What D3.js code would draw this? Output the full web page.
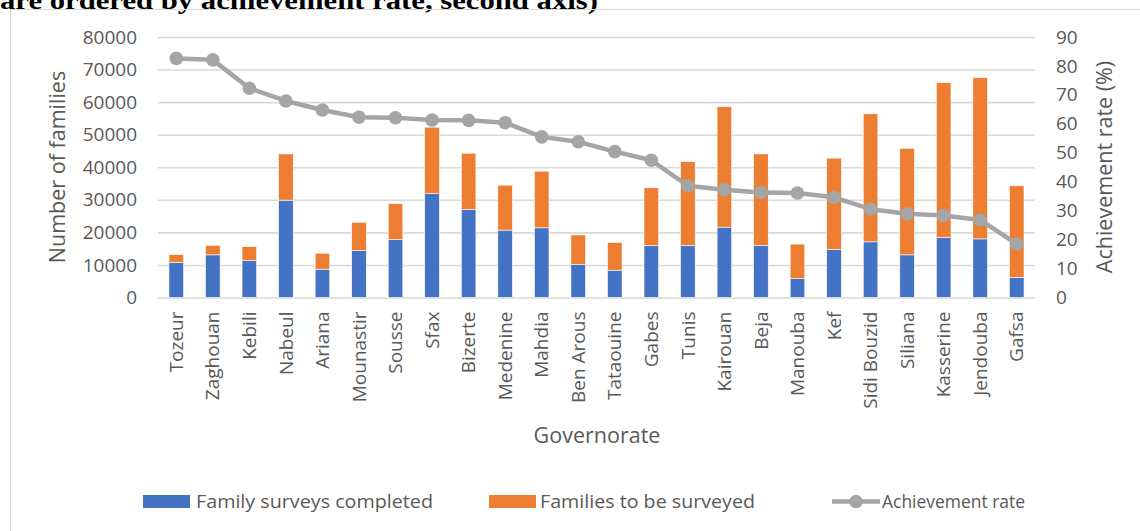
<!DOCTYPE html>
<html>
<head>
<meta charset="utf-8">
<script src="https://cdn.jsdelivr.net/npm/d3@7"></script>
<style>
  html, body { margin: 0; padding: 0; background: #fff; }
  svg { display: block; }
</style>
</head>
<body>
<div id="chart"></div>
<script>
// governorates, ordered by achievement rate
const governorates = ["Tozeur", "Zaghouan", "Kebili", "Nabeul", "Ariana", "Mounastir", "Sousse", "Sfax",
  "Bizerte", "Medenine", "Mahdia", "Ben Arous", "Tataouine", "Gabes", "Tunis", "Kairouan", "Beja",
  "Manouba", "Kef", "Sidi Bouzid", "Siliana", "Kasserine", "Jendouba", "Gafsa"];
const completed = [10800, 13100, 11300, 29900, 8700, 14400, 17800, 31900, 27000, 20700, 21400, 10100,
  8400, 15900, 15900, 21600, 15900, 5800, 14700, 17100, 13100, 18400, 18000, 6200];
const toSurvey = [2400, 2900, 4300, 14200, 4900, 8700, 11000, 20400, 17300, 13800, 17400, 9100,
  8500, 17800, 25800, 37000, 28200, 10600, 28100, 39300, 32700, 47600, 49500, 28100];
const rate = [82.6, 82.1, 72.3, 67.9, 64.8, 62.3, 62.1, 61.3, 61.2, 60.4, 55.5, 53.8, 50.4, 47.4,
  38.6, 37.2, 36.3, 36.1, 34.6, 30.5, 28.9, 28.3, 26.8, 18.5];
const leftTicks = [0, 10000, 20000, 30000, 40000, 50000, 60000, 70000, 80000];
const rightTicks = [0, 10, 20, 30, 40, 50, 60, 70, 80, 90];

const W = 1140, H = 531;
const colors = {blue: "#4472C4", orange: "#ED7D31", grey: "#A5A5A5", grid: "#D9D9D9", text: "#595959"};
const font = "'Open Sans', sans-serif";
const plot = {left: 158, right: 1035, top: 37, bottom: 297.5};

const svg = d3.select("#chart").append("svg")
  .attr("width", W).attr("height", H)
  .attr("viewBox", [0, 0, W, H]);

// cut-off caption above the chart frame
svg.append("text")
  .attr("x", 0).attr("y", 9)
  .attr("font-family", "'Liberation Serif', serif")
  .attr("font-weight", "bold")
  .attr("font-size", 26)
  .attr("fill", "#000")
  .attr("textLength", 598).attr("lengthAdjust", "spacingAndGlyphs")
  .text("are ordered by achievement rate, second axis)");

// chart frame (only top and left edges are visible)
svg.append("path")
  .attr("d", `M10.5,${H}V9.5H${W}`)
  .attr("fill", "none")
  .attr("stroke", colors.grid)
  .attr("stroke-width", 1.2);

const x = d3.scaleBand(governorates, [plot.left, plot.right]).paddingInner(0.6).paddingOuter(0.3);
const y = d3.scaleLinear([0, 80000], [plot.bottom, plot.top]);
const y2 = d3.scaleLinear([0, 90], [plot.bottom, plot.top]);

// gridlines
svg.append("g")
  .attr("transform", `translate(${plot.left},0)`)
  .call(d3.axisLeft(y).tickValues(leftTicks).tickSize(-(plot.right - plot.left)).tickFormat(""))
  .call(g => g.select(".domain").remove())
  .call(g => g.selectAll(".tick line").attr("stroke", colors.grid).attr("stroke-width", 1.6));

// left axis labels
svg.append("g")
  .attr("transform", `translate(${plot.left},0)`)
  .call(d3.axisLeft(y).tickValues(leftTicks).tickSize(0).tickPadding(21).tickFormat(d3.format("d")))
  .call(g => g.select(".domain").remove())
  .call(g => g.selectAll("text").attr("font-family", font).attr("font-size", 19).attr("fill", colors.text));

// right axis labels
svg.append("g")
  .attr("transform", `translate(${plot.right},0)`)
  .call(d3.axisRight(y2).tickValues(rightTicks).tickSize(0).tickPadding(21))
  .call(g => g.select(".domain").remove())
  .call(g => g.selectAll("text").attr("font-family", font).attr("font-size", 19).attr("fill", colors.text));

// stacked bars
const I = d3.range(governorates.length);
svg.append("g")
  .selectAll("rect.done")
  .data(I)
  .join("rect")
  .attr("x", i => x(governorates[i]))
  .attr("y", i => y(completed[i]))
  .attr("width", x.bandwidth())
  .attr("height", i => y(0) - y(completed[i]))
  .attr("fill", colors.blue)
  .attr("stroke", "#fff").attr("stroke-width", 0.6);

svg.append("g")
  .selectAll("rect.todo")
  .data(I)
  .join("rect")
  .attr("x", i => x(governorates[i]))
  .attr("y", i => y(completed[i] + toSurvey[i]))
  .attr("width", x.bandwidth())
  .attr("height", i => y(completed[i]) - y(completed[i] + toSurvey[i]))
  .attr("fill", colors.orange)
  .attr("stroke", "#fff").attr("stroke-width", 0.6);

// category labels
svg.append("g")
  .attr("transform", `translate(0,${plot.bottom})`)
  .call(d3.axisBottom(x).tickSize(0).tickPadding(0))
  .call(g => g.select(".domain").remove())
  .call(g => g.selectAll("text")
    .attr("font-family", font).attr("font-size", 19).attr("fill", colors.text)
    .attr("text-anchor", "end")
    .attr("transform", "rotate(-90)")
    .attr("x", -14).attr("y", 0).attr("dy", "0.35em"));

// achievement rate line
const cx = i => x(governorates[i]) + x.bandwidth() / 2;
svg.append("path")
  .datum(I)
  .attr("fill", "none")
  .attr("stroke", colors.grey)
  .attr("stroke-width", 4.5)
  .attr("stroke-linejoin", "round")
  .attr("d", d3.line().x(cx).y(i => y2(rate[i])));

svg.append("g")
  .attr("fill", colors.grey)
  .selectAll("circle")
  .data(I)
  .join("circle")
  .attr("cx", cx)
  .attr("cy", i => y2(rate[i]))
  .attr("r", 6.8);

// axis titles
const titleStyle = t => t.attr("font-family", font).attr("font-size", 21.5).attr("fill", colors.text).attr("text-anchor", "middle");
svg.append("text").call(titleStyle)
  .attr("transform", "translate(65,167) rotate(-90)")
  .text("Number of families");
svg.append("text").call(titleStyle)
  .attr("transform", "translate(1112,167) rotate(-90)")
  .text("Achievement rate (%)");
svg.append("text").call(titleStyle)
  .attr("x", 597).attr("y", 443)
  .text("Governorate");

// legend
const legend = [
  {label: "Family surveys completed", type: "rect", color: colors.blue, x: 143, tx: 196, tw: 237},
  {label: "Families to be surveyed", type: "rect", color: colors.orange, x: 489, tx: 540, tw: 215},
  {label: "Achievement rate", type: "line", color: colors.grey, x: 832, tx: 882, tw: 143}
];
const lg = svg.append("g");
legend.forEach(d => {
  if (d.type === "rect") {
    lg.append("rect").attr("x", d.x).attr("y", 495).attr("width", 47).attr("height", 13).attr("fill", d.color);
  } else {
    lg.append("line").attr("x1", d.x).attr("x2", d.x + 48).attr("y1", 501.5).attr("y2", 501.5)
      .attr("stroke", d.color).attr("stroke-width", 4.5);
    lg.append("circle").attr("cx", d.x + 24).attr("cy", 501.5).attr("r", 6.8).attr("fill", d.color);
  }
  lg.append("text")
    .attr("x", d.tx).attr("y", 508)
    .attr("font-family", font).attr("font-size", 18).attr("fill", colors.text)
    .attr("textLength", d.tw).attr("lengthAdjust", "spacingAndGlyphs")
    .text(d.label);
});
</script>
</body>
</html>
